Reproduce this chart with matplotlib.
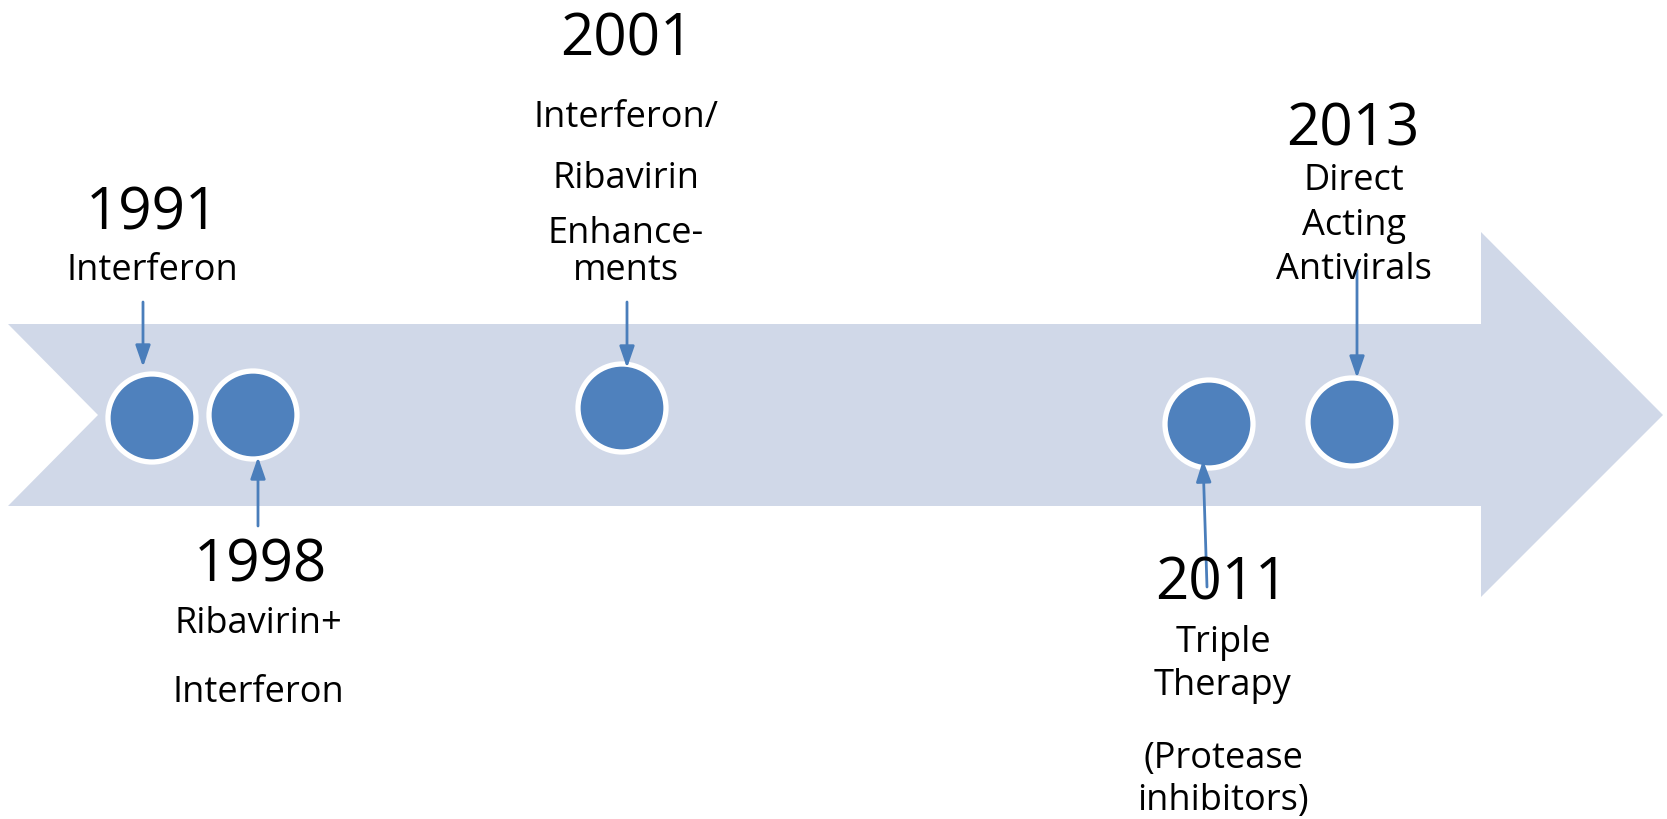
"""
Timeline of hepatitis C treatments drawn as a big chevron arrow.
"""
import matplotlib
matplotlib.use("Agg")
import matplotlib.pyplot as plt
from matplotlib.patches import Polygon, Circle

plt.rcParams['font.family'] = ['Open Sans', 'DejaVu Sans']

# milestones
years = ['1991', '1998', '2001', '2011', '2013']
labels = [
    ['Interferon'],
    ['Ribavirin+', 'Interferon'],
    ['Interferon/', 'Ribavirin', 'Enhance-', 'ments'],
    ['Triple', 'Therapy', '(Protease', 'inhibitors)'],
    ['Direct', 'Acting', 'Antivirals'],
]
# dot centres (pixels)
dot_x = [152, 253, 622, 1209, 1352]
dot_y = [419, 416, 409, 425, 423]
# year text centre x and baseline y
year_x = [152, 260, 627, 1222, 1353]
year_base = [230, 582, 55, 600, 145]
# baselines of label lines
label_x = [152, 258, 626, 1223, 1354]
label_base = [[280], [633, 702], [127, 188, 243, 280],
              [652, 695, 768, 810], [190, 235, 279]]
# connector arrows: (start, tip)
conn_start = [(143, 303), (258, 527), (627, 303), (1207, 588), (1357, 271)]
conn_tip = [(143, 368), (258, 458), (627, 369), (1203, 461), (1357, 379)]

W, H = 1667, 820
fig = plt.figure(figsize=(W / 100, H / 100), dpi=100)
ax = fig.add_axes([0, 0, 1, 1])
ax.set_xlim(0, W)
ax.set_ylim(H, 0)
ax.axis('off')

# big background arrow
body_top, body_bot = 325, 507
arrow = Polygon([(8, body_top), (1481, body_top), (1481, 233), (1663, 416),
                 (1481, 598), (1481, body_bot), (8, body_bot), (98, 416)],
                closed=True, facecolor='#D0D8E8', edgecolor='none')
ax.add_patch(arrow)

for x, y in zip(dot_x, dot_y):
    ax.add_patch(Circle((x, y), 44, facecolor='#4F81BD', edgecolor='white',
                        linewidth=3.8, zorder=3))

for s, t in zip(conn_start, conn_tip):
    ax.annotate('', xy=t, xytext=s,
                arrowprops=dict(arrowstyle='-|>,head_length=1.3,head_width=0.45',
                                color='#4A7EBB', lw=2, shrinkA=0, shrinkB=0),
                zorder=4)

for i, yr in enumerate(years):
    ax.text(year_x[i], year_base[i], yr, fontsize=42, ha='center',
            va='baseline', color='black', zorder=5)
    for line, yb in zip(labels[i], label_base[i]):
        ax.text(label_x[i], yb, line, fontsize=26, ha='center',
                va='baseline', color='black', zorder=5)

plt.savefig('out.png', dpi=100)
plt.close()
